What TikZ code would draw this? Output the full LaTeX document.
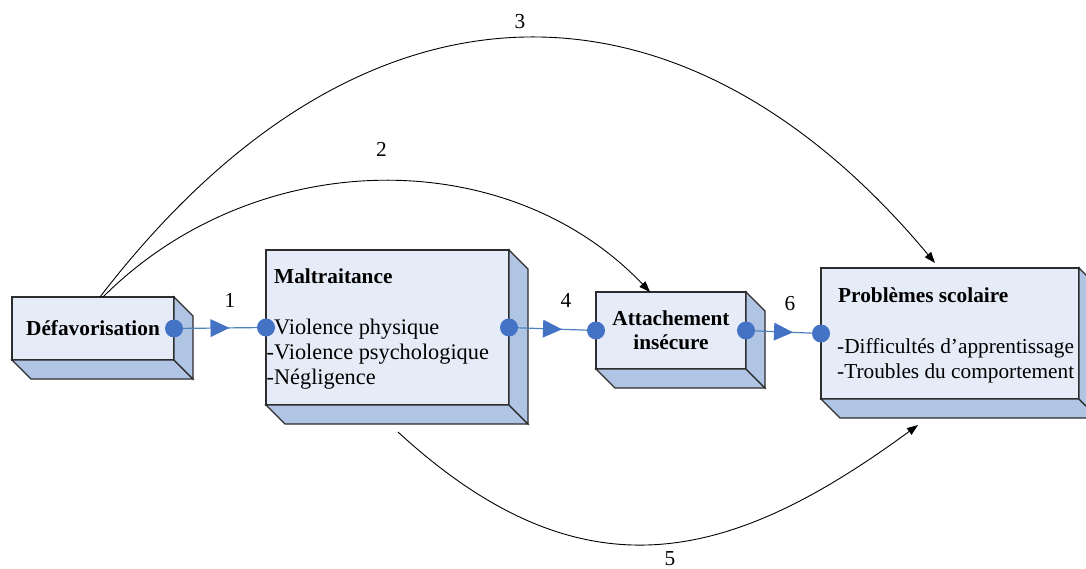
\documentclass[tikz,border=0pt]{standalone}
\usepackage{fontspec}
\setmainfont{Liberation Serif}
\usetikzlibrary{arrows.meta,decorations.markings,calc}
\definecolor{frontc}{RGB}{230,236,247}
\definecolor{sidec}{RGB}{176,196,228}
\definecolor{edgec}{RGB}{45,45,45}
\definecolor{dotc}{RGB}{68,114,196}
\definecolor{linec}{RGB}{79,129,189}
\tikzset{
  txt/.style={font=\fontsize{21.3pt}{25pt}\selectfont, inner sep=0pt},
  bigtxt/.style={font=\fontsize{22.3pt}{25pt}\selectfont, inner sep=0pt},
  boldtext/.style={font=\fontsize{21.3pt}{24pt}\selectfont\bfseries, inner sep=0pt},
  face/.style={draw=edgec, line width=1.2pt, fill=frontc, inner sep=0pt, outer sep=0pt},
  side/.style={draw=edgec, line width=1.2pt, fill=sidec, line join=miter},
  dotnode/.style={circle, fill=dotc, minimum size=18pt, inner sep=0pt, outer sep=0pt},
  link/.style={draw=linec, line width=1.2pt, postaction={decorate},
    decoration={markings, mark=at position 0.5 with {\fill[dotc] (-9.5pt,9pt) -- (9.5pt,0pt) -- (-9.5pt,-9pt) -- cycle;}}},
  curve/.style={draw=black, line width=0.9pt, -{Triangle[length=11pt,width=8pt]}},
}
\newcommand\depthfaces[1]{%
  \path[side] (#1.south west) -- (#1.south east) -- ([shift={(19,19)}]#1.south east) -- ([shift={(19,19)}]#1.south west) -- cycle;
  \path[side] (#1.north east) -- ([shift={(19,19)}]#1.north east) -- ([shift={(19,19)}]#1.south east) -- (#1.south east) -- cycle;
}
\begin{document}
\begin{tikzpicture}[x=1pt,y=-1pt]
\useasboundingbox (0,0) rectangle (1086,569);
\clip (0,0) rectangle (1086,569);
\fill[white] (0,0) rectangle (1086,569);

% boxes
\node[face, boldtext, minimum width=162pt, minimum height=63pt] (def) at (93,328.5) {Défavorisation};
\depthfaces{def}
\node[face, minimum width=243pt, minimum height=155pt] (malt) at (387.5,327.5) {};
\depthfaces{malt}
\node[face, boldtext, align=center, minimum width=150pt, minimum height=77pt] (att) at (671,330.5) {Attachement\\insécure};
\depthfaces{att}
\node[face, minimum width=258pt, minimum height=131pt] (prob) at (950,333.5) {};
\depthfaces{prob}

% box texts
\node[boldtext, anchor=base west] (maltT) at (274,283.5) {Maltraitance};
\node[bigtxt, anchor=base west] (m1) at (266.5,334) {-Violence physique};
\node[bigtxt, anchor=base west] (m2) at (266.5,359) {-Violence psychologique};
\node[bigtxt, anchor=base west] (m3) at (266.5,384) {-Négligence};
\node[boldtext, anchor=base west] (probT) at (838,302) {Problèmes scolaire};
\node[txt, anchor=base west] (p1) at (837,353) {-Difficultés d’apprentissage};
\node[txt, anchor=base west] (p2) at (837,378) {-Troubles du comportement};

% dots
\node[dotnode] (d1) at (def.east) {};
\node[dotnode] (d2) at (malt.west) {};
\node[dotnode] (d3) at (malt.east) {};
\node[dotnode] (d4) at (att.west) {};
\node[dotnode] (d5) at (att.east) {};
\node[dotnode] (d6) at (prob.west) {};

% blue links
\draw[link] (d1) -- (d2);
\draw[link] (d3) -- (d4);
\draw[link] (d5) -- (d6);

% curved arrows
\draw[curve] ($(def.north)+(7,0)$) .. controls (365,-48) and (685,-37) .. ($(prob.north)+(-15,-5)$);
\draw[curve] ($(def.north)+(10,0)$) .. controls (255,145) and (507,142) .. ($(att.north)+(-21,0)$);
\draw[curve] ($(malt.south)+(10.5,27)$) .. controls (586,605) and (735,559) .. ($(prob.south)+(-32,26)$);

% numbers
\node[txt] (n1) at (230,300.5) {1};
\node[txt] (n2) at (381.5,149) {2};
\node[txt] (n3) at (520,21.5) {3};
\node[txt] (n4) at (566,300.5) {4};
\node[txt] (n5) at (670,558.5) {5};
\node[txt] (n6) at (790,304) {6};
\end{tikzpicture}
\end{document}
